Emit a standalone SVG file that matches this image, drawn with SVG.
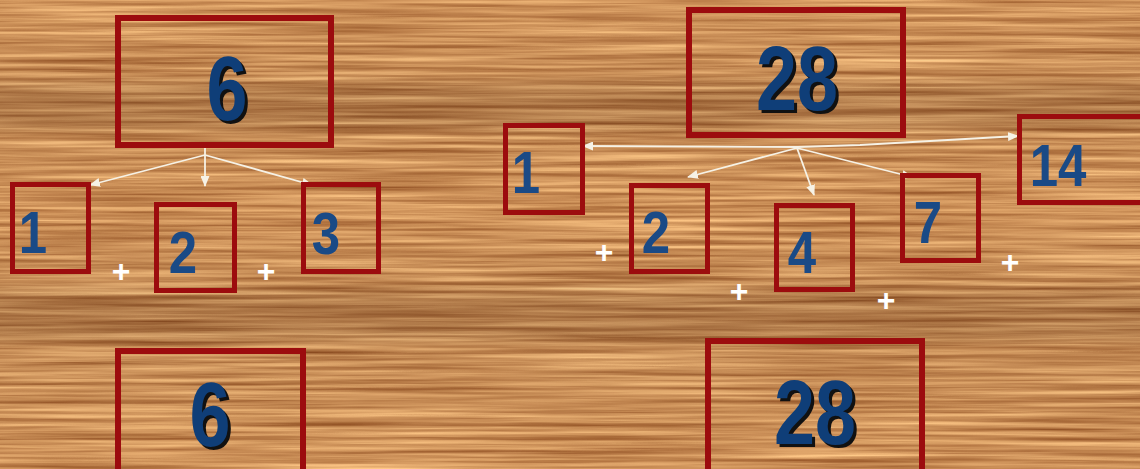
<svg xmlns="http://www.w3.org/2000/svg" width="1140" height="469" viewBox="0 0 1140 469">
<style>
.box{fill:none;stroke:#9c0c0e;stroke-width:5}
.big{stroke-width:6}
.dg{font-family:"Liberation Sans",Arial,sans-serif;font-weight:bold;text-anchor:middle;fill:#1a4a86}
.bd{font-size:90px;fill:#0f3e78}
.sh{fill:#111}
.sm{font-size:60px}
.pl{font-family:"Liberation Sans",Arial,sans-serif;font-weight:bold;font-size:32px;fill:#fff;text-anchor:middle}
.ar{stroke:#f6f2e6;stroke-width:1.8;fill:none;marker-end:url(#ah)}
</style>
<defs>
<marker id="ah" markerWidth="11" markerHeight="9" refX="10" refY="4.5" orient="auto" markerUnits="userSpaceOnUse">
<path d="M0,0 L11,4.5 L0,9 Z" fill="#f6f2e6"/>
</marker>
<filter id="wood" x="0" y="0" width="100%" height="100%" color-interpolation-filters="sRGB">
<feTurbulence type="fractalNoise" baseFrequency="0.004 0.22" numOctaves="4" seed="7" result="n"/>
<feColorMatrix in="n" type="matrix" values="0.55 0 0 0 0.53  0.6 0 0 0 0.27  0.5 0 0 0 0.1  0 0 0 0 1"/>
</filter>
<linearGradient id="bands" x1="0" y1="0" x2="0" y2="1">
<stop offset="0" stop-color="#000" stop-opacity="0"/>
<stop offset="0.16" stop-color="#000" stop-opacity="0.03"/>
<stop offset="0.23" stop-color="#4a2008" stop-opacity="0.25"/>
<stop offset="0.29" stop-color="#000" stop-opacity="0.03"/>
<stop offset="0.45" stop-color="#000" stop-opacity="0"/>
<stop offset="0.6" stop-color="#000" stop-opacity="0.04"/>
<stop offset="0.68" stop-color="#4a2008" stop-opacity="0.25"/>
<stop offset="0.74" stop-color="#000" stop-opacity="0.04"/>
<stop offset="1" stop-color="#000" stop-opacity="0"/>
</linearGradient>
</defs>
<rect width="1140" height="469" fill="#cc8e58"/>
<rect width="1140" height="469" filter="url(#wood)"/>
<rect width="1140" height="469" fill="url(#bands)"/>

<g id="connectors">
<line class="ar" x1="205" y1="147" x2="205" y2="186"/>
<line class="ar" x1="205" y1="155" x2="90" y2="185"/>
<line class="ar" x1="205" y1="155" x2="312" y2="185"/>
<line class="ar" x1="797" y1="147" x2="583" y2="146"/>
<polyline class="ar" points="797,147 860,145 1018,136"/>
<line class="ar" x1="797" y1="148" x2="688" y2="177"/>
<line class="ar" x1="797" y1="148" x2="814" y2="195"/>
<line class="ar" x1="797" y1="148" x2="912" y2="177"/>
</g>

<g id="n6top">
<rect class="box big" x="118" y="18" width="213" height="127"/>
<text class="dg bd sh" transform="translate(230,123) scale(0.82,1)">6</text>
<text class="dg bd" transform="translate(227,120) scale(0.82,1)">6</text>
</g>
<g id="nL1">
<rect class="box" x="12.5" y="184.5" width="76" height="87"/>
<text class="dg sm" transform="translate(33,253) scale(0.85,1)">1</text>
</g>
<g id="nL2">
<rect class="box" x="156.5" y="204.5" width="78" height="86"/>
<text class="dg sm" transform="translate(183,273) scale(0.85,1)">2</text>
</g>
<g id="nL3">
<rect class="box" x="303.5" y="184.5" width="75" height="87"/>
<text class="dg sm" transform="translate(326,254) scale(0.85,1)">3</text>
</g>
<g id="n6bot">
<rect class="box big" x="118" y="351" width="185" height="130"/>
<text class="dg bd sh" transform="translate(213,449) scale(0.82,1)">6</text>
<text class="dg bd" transform="translate(210,446) scale(0.82,1)">6</text>
</g>

<g id="n28top">
<rect class="box big" x="689" y="10" width="214" height="125"/>
<text class="dg bd sh" transform="translate(800,113) scale(0.82,1)">28</text>
<text class="dg bd" transform="translate(797,110) scale(0.82,1)">28</text>
</g>
<g id="nR1">
<rect class="box" x="505.5" y="125.5" width="77" height="87"/>
<text class="dg sm" transform="translate(526,193) scale(0.85,1)">1</text>
</g>
<g id="nR14">
<rect class="box" x="1019.5" y="116.5" width="140" height="86"/>
<text class="dg sm" transform="translate(1058,186) scale(0.85,1)">14</text>
</g>
<g id="nR2">
<rect class="box" x="631.5" y="185.5" width="76" height="86"/>
<text class="dg sm" transform="translate(656,253) scale(0.85,1)">2</text>
</g>
<g id="nR4">
<rect class="box" x="776.5" y="205.5" width="76" height="84"/>
<text class="dg sm" transform="translate(802,273) scale(0.85,1)">4</text>
</g>
<g id="nR7">
<rect class="box" x="902.5" y="175.5" width="76" height="85"/>
<text class="dg sm" transform="translate(928,243) scale(0.85,1)">7</text>
</g>
<g id="n28bot">
<rect class="box big" x="708" y="341" width="214" height="140"/>
<text class="dg bd sh" transform="translate(818,447) scale(0.82,1)">28</text>
<text class="dg bd" transform="translate(815,444) scale(0.82,1)">28</text>
</g>

<g id="plus">
<text class="pl" x="121" y="282">+</text>
<text class="pl" x="266" y="282">+</text>
<text class="pl" x="604" y="263">+</text>
<text class="pl" x="739" y="302">+</text>
<text class="pl" x="886" y="311">+</text>
<text class="pl" x="1010" y="273">+</text>
</g>
</svg>
